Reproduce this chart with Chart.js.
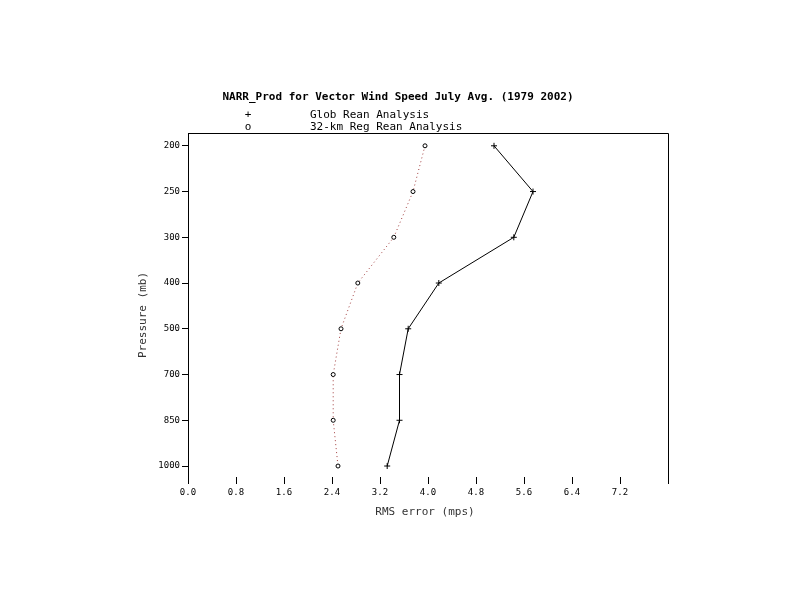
<!DOCTYPE html>
<html>
<head>
<meta charset="utf-8">
<script src="https://cdn.jsdelivr.net/npm/chart.js@4.4.1/dist/chart.umd.min.js"></script>
<style>
  body { margin: 0; background: #fff; }
</style>
</head>
<body>
<canvas id="chart" width="794" height="595"></canvas>
<script>
// pressure levels (mb), top of the plot first
const pressureLevels = ["200", "250", "300", "400", "500", "700", "850", "1000"];
// RMS error (mps) per level
const globRean = [5.1, 5.75, 5.43, 4.18, 3.67, 3.525, 3.525, 3.32];
const regRean = [3.95, 3.75, 3.43, 2.83, 2.55, 2.42, 2.42, 2.5];

const titleText = "NARR_Prod for Vector Wind Speed July Avg. (1979 2002)";
const globLabel = "Glob Rean Analysis";
const regLabel = "32-km Reg Rean Analysis";

const toPoints = (vals) => vals.map((v, i) => ({ x: v, y: i }));

// title, legend, axis titles and the top/right frame lines
const frame = {
	id: "frame",
	afterDraw(chart) {
		const { ctx, chartArea } = chart;
		ctx.save();
		ctx.strokeStyle = "#000";
		ctx.lineWidth = 1;
		ctx.beginPath();
		ctx.moveTo(chartArea.left, chartArea.top + 0.5);
		ctx.lineTo(chartArea.right + 0.5, chartArea.top + 0.5);
		ctx.lineTo(chartArea.right + 0.5, chartArea.bottom);
		ctx.stroke();

		ctx.fillStyle = "#000";
		ctx.textBaseline = "middle";
		ctx.font = "bold 11px 'DejaVu Sans Mono'";
		ctx.textAlign = "center";
		ctx.fillText(titleText, 398, 97);

		ctx.font = "11px 'DejaVu Sans Mono'";
		ctx.fillText("+", 248, 115);
		ctx.fillText("o", 248, 127);
		ctx.textAlign = "left";
		ctx.fillText(globLabel, 310, 115);
		ctx.fillText(regLabel, 310, 127);

		ctx.fillStyle = "#333";
		ctx.font = "11px 'DejaVu Sans Mono'";
		ctx.textAlign = "center";
		ctx.fillText("RMS error (mps)", 425, 512);

		ctx.translate(143, 315);
		ctx.rotate(-Math.PI / 2);
		ctx.fillText("Pressure (mb)", 0, 0);
		ctx.restore();
	},
};

new Chart(document.getElementById("chart"), {
	type: "line",
	data: {
		datasets: [
			{
				label: globLabel,
				data: toPoints(globRean),
				borderColor: "#000",
				borderWidth: 1,
				pointStyle: "cross",
				pointRadius: 3,
				pointBorderColor: "#000",
				pointBorderWidth: 1,
			},
			{
				label: regLabel,
				data: toPoints(regRean),
				borderColor: "#a03c3c",
				borderWidth: 1,
				borderDash: [1, 3],
				pointStyle: "circle",
				pointRadius: 2,
				pointBackgroundColor: "#fff",
				pointBorderColor: "#000",
				pointBorderWidth: 1,
			},
		],
	},
	options: {
		responsive: false,
		animation: false,
		layout: { padding: { left: 0, top: 133, right: 126, bottom: 0 } },
		plugins: {
			legend: { display: false },
			title: { display: false },
			tooltip: { enabled: false },
		},
		scales: {
			x: {
				type: "linear",
				min: 0,
				max: 8,
				afterFit: (scale) => { scale.height = 118; },
				border: { display: false },
				grid: {
					drawOnChartArea: false,
					drawTicks: true,
					tickLength: 7,
					color: "#000",
				},
				ticks: {
					stepSize: 0.8,
					autoSkip: false,
					maxRotation: 0,
					padding: 3,
					color: "#000",
					font: { family: "DejaVu Sans Mono", size: 9 },
					callback: (v) => (v >= 7.9 ? "" : v.toFixed(1)),
				},
			},
			y: {
				type: "linear",
				reverse: true,
				min: -0.28,
				max: 7.24,
				afterFit: (scale) => { scale.width = 188; },
				afterBuildTicks: (scale) => {
					scale.ticks = pressureLevels.map((_, i) => ({ value: i }));
				},
				border: { display: true, color: "#000", width: 1 },
				grid: {
					drawOnChartArea: false,
					drawTicks: true,
					tickLength: 6,
					color: "#000",
				},
				ticks: {
					autoSkip: false,
					padding: 2,
					color: "#000",
					font: { family: "DejaVu Sans Mono", size: 9 },
					callback: (v) => pressureLevels[v],
				},
			},
		},
	},
	plugins: [frame],
});
</script>
</body>
</html>
